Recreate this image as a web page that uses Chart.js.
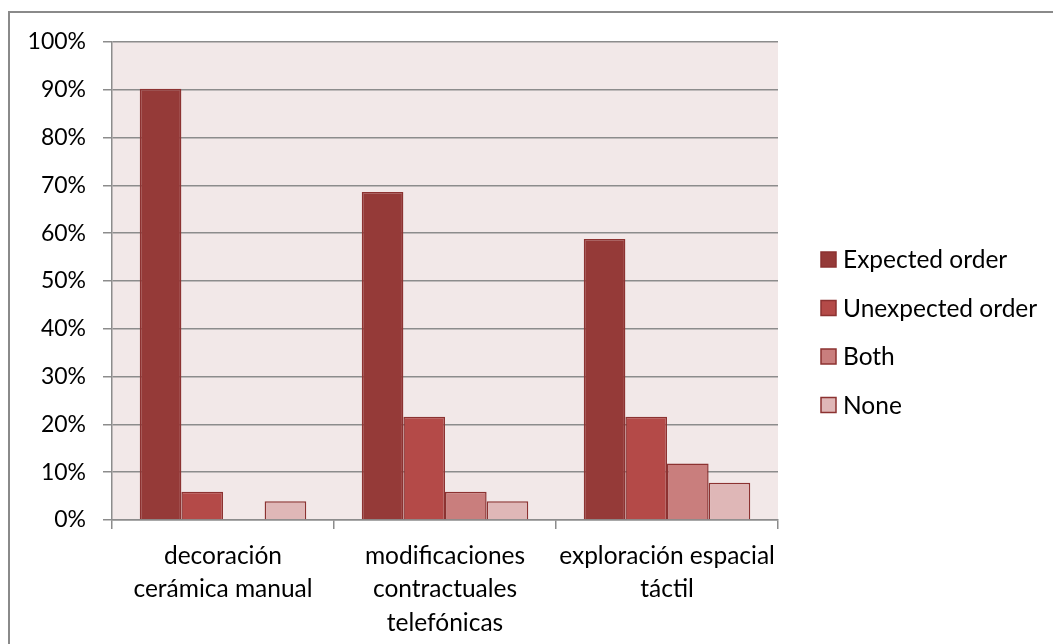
<!DOCTYPE html>
<html>
<head>
<meta charset="utf-8">
<script src="https://cdn.jsdelivr.net/npm/chart.js@4"></script>
<style>
  html, body { margin: 0; padding: 0; background: #fff; overflow: hidden; }
  #wrap { position: relative; width: 1053px; height: 644px; }
</style>
</head>
<body>
<div id="wrap"><canvas id="chart" width="1053" height="644"></canvas></div>
<script>
// Datos (fracciones de 51 respuestas)
const categories = [
  ["decoración", "cerámica manual"],
  ["modificaciones", "contractuales", "telefónicas"],
  ["exploración espacial", "táctil"]
];
const seriesNames = ["Expected order", "Unexpected order", "Both", "None"];
const expectedOrder = [0.902, 0.686, 0.588];
const unexpectedOrder = [0.059, 0.216, 0.216];
const both = [0, 0.059, 0.118];
const none = [0.039, 0.039, 0.078];
const yTicks = [0, 0.1, 0.2, 0.3, 0.4, 0.5, 0.6, 0.7, 0.8, 0.9, 1];

const fills = ["#953a38", "#b44a48", "#c97e7d", "#dfb7b7"];
const edge = "#8c3231";
const gridColor = "#8c8c8c";
const FONT = "Lato, 'Open Sans', sans-serif";

const values = [expectedOrder, unexpectedOrder, both, none];

// fondo del area y marco exterior
const backdrop = {
  id: "backdrop",
  beforeDraw(chart) {
    const { ctx, chartArea: a } = chart;
    ctx.save();
    ctx.strokeStyle = "#8a8a8a";
    ctx.lineWidth = 2;
    ctx.strokeRect(9, 12, 1100, 700);
    ctx.fillStyle = "#f2e8e8";
    ctx.fillRect(a.left, a.top, a.right - a.left, a.bottom - a.top);
    ctx.restore();
  }
};

// leyenda propia a la derecha
const sideLegend = {
  id: "sideLegend",
  afterDraw(chart) {
    const ctx = chart.ctx;
    ctx.save();
    ctx.font = "24.5px " + FONT;
    ctx.textBaseline = "middle";
    chart.data.datasets.forEach((ds, i) => {
      const y = 259.5 + i * 48.5;
      ctx.fillStyle = ds.backgroundColor;
      ctx.fillRect(821, y - 7.5, 15, 15);
      ctx.strokeStyle = edge;
      ctx.lineWidth = 1.5;
      ctx.strokeRect(821, y - 7.5, 15, 15);
      ctx.fillStyle = "#000";
      ctx.fillText(ds.label, 843, y + 1);
    });
    ctx.restore();
  }
};

new Chart(document.getElementById("chart").getContext("2d"), {
  type: "bar",
  data: {
    labels: categories,
    datasets: seriesNames.map((name, i) => ({
      label: name,
      data: values[i],
      backgroundColor: fills[i],
      borderColor: edge,
      borderWidth: 1.5,
      categoryPercentage: 0.75,
      barPercentage: 1
    }))
  },
  options: {
    responsive: false,
    animation: false,
    layout: { padding: { left: 0, top: 42, right: 275, bottom: 0 } },
    plugins: {
      legend: { display: false },
      tooltip: { enabled: false }
    },
    scales: {
      x: {
        grid: {
          offset: true,
          drawOnChartArea: false,
          color: gridColor,
          lineWidth: 1.5,
          tickLength: 9
        },
        border: { color: gridColor, width: 1.5 },
        ticks: {
          color: "#000",
          padding: 10,
          maxRotation: 0,
          autoSkip: false,
          font: { family: FONT, size: 24.5, lineHeight: 1.37 }
        },
        afterFit(scale) { scale.height = 124; }
      },
      y: {
        min: 0,
        max: 1,
        afterBuildTicks(scale) { scale.ticks = yTicks.map(v => ({ value: v })); },
        grid: {
          color: gridColor,
          lineWidth: 1.5,
          tickLength: 9
        },
        border: { color: gridColor, width: 1.5 },
        ticks: {
          color: "#000",
          padding: 17,
          font: { family: FONT, size: 23 },
          callback: v => Math.round(v * 100) + "%"
        },
        afterFit(scale) { scale.width = 112; }
      }
    }
  },
  plugins: [backdrop, sideLegend]
});
</script>
</body>
</html>
